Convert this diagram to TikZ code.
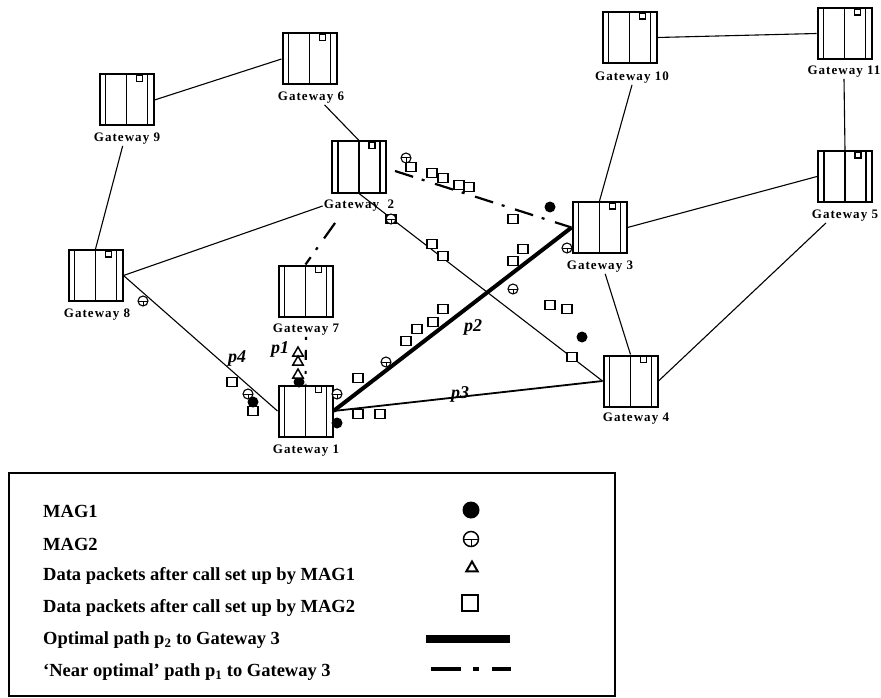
\documentclass[tikz,border=0pt]{standalone}
\usepackage{fontspec}
\setmainfont{Liberation Serif}
\newfontfamily\gwfont[LetterSpace=8]{Liberation Serif}
\usetikzlibrary{calc,shapes.geometric}
\tikzset{
	gwbox/.style={draw, line width=2pt, fill=white, inner sep=0pt, minimum width=54pt, minimum height=51pt},
	gwlabel/.style={inner sep=1pt, font=\gwfont\bfseries\fontsize{13}{14}\selectfont},
	link/.style={line width=1.1pt},
	optimal/.style={line width=4pt},
	nearopt/.style={line width=2.2pt, dash pattern=on 19pt off 9pt on 3pt off 11pt},
	pkt/.style={draw, line width=1.1pt, fill=white, inner sep=0pt, minimum width=10pt, minimum height=8.5pt},
	magone/.style={circle, fill=black, inner sep=0pt, minimum size=11pt},
	magtwo/.style={circle, draw, line width=1.1pt, fill=white, inner sep=0pt, minimum size=10pt,
		path picture={\draw[line width=1pt] (path picture bounding box.west) -- (path picture bounding box.east);
			\draw[line width=1pt] (path picture bounding box.center) -- (path picture bounding box.south);}},
	pktone/.style={regular polygon, regular polygon sides=3, draw, line width=1.5pt, fill=white, inner sep=0pt, minimum size=12pt},
	pathlabel/.style={inner sep=0pt, font=\bfseries\itshape\fontsize{18}{20}\selectfont},
	legendtext/.style={anchor=west, inner sep=0pt, font=\bfseries\fontsize{18.5}{20}\selectfont},
}
\def\gateway(#1)(#2,#3)(#4,#5)#6;{
	\node[gwbox] (#1) at (#2,#3) {};
	\draw[line width=1.6pt] ($(#1.north west)+(7,0)$) -- ($(#1.south west)+(7,0)$);
	\draw[line width=1.2pt] (#1.north) -- (#1.south);
	\draw[line width=1.6pt] ($(#1.north east)+(-7,0)$) -- ($(#1.south east)+(-7,0)$);
	\draw[line width=1.2pt, fill=white] ($(#1.north west)+(38,2)$) rectangle ($(#1.north west)+(44,8)$);
	\node[gwlabel] (#1lab) at (#4,#5) {#6};
}

\begin{document}
\begin{tikzpicture}[x=1pt, y=-1pt]
	\useasboundingbox[fill=white] (0, 0) rectangle (881, 698);

	% gateways
	\gateway(gw1)(305.5, 411)(306, 451)Gateway 1;
	\gateway(gw2)(359, 167)(359, 206)Gateway\ \ 2;
	\gateway(gw3)(599.5, 227.5)(600, 267)Gateway 3;
	\gateway(gw4)(630.5, 381)(636, 419)Gateway 4;
	\gateway(gw5)(845, 176.5)(845, 216)Gateway 5;
	\gateway(gw6)(309.5, 59)(311, 98)Gateway 6;
	\gateway(gw7)(305.5, 291)(306, 330)Gateway 7;
	\gateway(gw8)(95.5, 275.5)(97, 315)Gateway 8;
	\gateway(gw9)(126.5, 100)(127, 139)Gateway 9;
	\gateway(gw10)(629.5, 37.5)(632, 78)Gateway 10;
	\gateway(gw11)(844.5, 33.5)(844, 72)Gateway 11;

	% links
	\draw[link] (gw9.east) -- (gw6.west);
	\draw[link] (gw9lab.238) -- (gw8.north);
	\draw[link] (gw8.east) -- (gw2lab.west);
	\draw[link] (gw8.east) -- (gw1.west);
	\draw[link] (gw6lab.333) -- (gw2.north);
	\draw[link] (gw2.south) -- (gw4.west);
	\draw[link, line width=1.8pt] (gw1.east) -- (gw4.west);
	\draw[link] (gw3lab.307) -- (gw4.north);
	\draw[link] (gw3.north) -- (gw10lab.south);
	\draw[link] (gw3.east) -- (gw5.west);
	\draw[link] (gw4.east) -- (gw5lab.200);
	\draw[link] (gw11lab.south) -- (gw5.north);
	\draw[link] (gw10.east) -- (gw11.west);

	% paths
	\draw[optimal] (gw1.east) -- (gw3.west);
	\coordinate (nearstart) at (395, 171);
	\draw[nearopt] (nearstart) -- (gw3.west);
	\coordinate (nearmid) at (340, 216);
	\draw[nearopt, dash phase=10pt] (gw7.north) -- (nearmid);
	\draw[line width=2.2pt, dash pattern=on 3pt off 10pt on 10pt off 11pt] (gw7lab.south) -- (gw1.north);

	\node[pathlabel] (labp1) at (280, 349) {p1};
	\node[pathlabel] (labp2) at (473, 327) {p2};
	\node[pathlabel] (labp3) at (460, 394) {p3};
	\node[pathlabel] (labp4) at (237, 358) {p4};

	% packets
	\foreach \x/\y [count=\i] in {411/167, 432/173, 443/178, 459/185, 469/187, 513/219, 523/249, 513/261,
		391/219, 432/244, 443/256, 443/309, 433/322, 417/329, 406/341, 550/305, 567/309, 572/357,
		358/414, 380/414, 358/378, 253/411, 232/382}
		\node[pkt] (pkt\i) at (\x, \y) {};
	\foreach \x/\y [count=\i] in {406/158, 391/219, 386/362, 337/394, 248/394, 567/248, 513/289, 143/301}
		\node[magtwo] (mag2\i) at (\x, \y) {};
	\foreach \x/\y [count=\i] in {550/207, 582/337, 337/423, 253/402, 299/382}
		\node[magone] (mag1\i) at (\x, \y) {};
	\foreach \x/\y [count=\i] in {298/353, 298/362, 298/375}
		\node[pktone] (tri\i) at (\x, \y) {};

	% legend
	\draw[line width=2.5pt] (9, 473) rectangle (615, 696);
	\node[legendtext] (txtmag1) at (43, 511) {MAG1};
	\node[legendtext] (txtmag2) at (43, 544) {MAG2};
	\node[legendtext] (txtpkt1) at (43, 576) {Data packets after call set up by MAG1};
	\node[legendtext] (txtpkt2) at (43, 608) {Data packets after call set up by MAG2};
	\node[legendtext] (txtopt) at (43, 640) {Optimal path p\textsubscript{2} to Gateway 3};
	\node[legendtext] (txtnear) at (43, 672) {`Near optimal' path p\textsubscript{1} to Gateway 3};

	\node[magone, minimum size=17pt] (keymag1) at (471, 510) {};
	\node[magtwo, minimum size=15pt, line width=1.5pt] (keymag2) at (471, 539) {};
	\node[pktone, minimum size=13pt, line width=2pt] (keypkt1) at (472, 568) {};
	\node[pkt, minimum width=16pt, minimum height=16pt] (keypkt2) at (470, 603) {};
	\coordinate (keyoptl) at (426, 639);
	\coordinate (keyoptr) at (510, 639);
	\draw[line width=8pt] (keyoptl) -- (keyoptr);
	\coordinate (keynearl) at (431, 669);
	\coordinate (keynearr) at (511, 669);
	\draw[line width=4.5pt, dash pattern=on 30pt off 12pt on 6pt off 13pt on 19pt] (keynearl) -- (keynearr);
\end{tikzpicture}
\end{document}
